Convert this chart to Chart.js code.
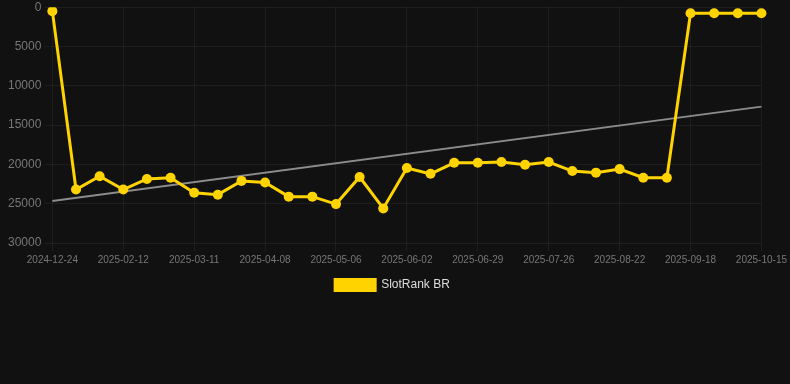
<!DOCTYPE html>
<html>
<head>
<meta charset="utf-8">
<script src="https://cdn.jsdelivr.net/npm/chart.js@4"></script>
<style>
  html, body { margin: 0; padding: 0; background: #111111; overflow: hidden; }
  #wrap { width: 790px; height: 304px; position: relative; top: -3px; }
</style>
</head>
<body>
<div id="wrap"><canvas id="grafico"></canvas></div>
<script>
const datas = ['2024-12-24', '2025-01-25', '2025-02-03', '2025-02-12', '2025-02-21', '2025-03-02',
  '2025-03-11', '2025-03-20', '2025-03-29', '2025-04-08', '2025-04-17', '2025-04-26',
  '2025-05-06', '2025-05-15', '2025-05-24', '2025-06-02', '2025-06-11', '2025-06-20',
  '2025-06-29', '2025-07-08', '2025-07-17', '2025-07-26', '2025-08-04', '2025-08-13',
  '2025-08-22', '2025-08-31', '2025-09-09', '2025-09-18', '2025-09-27', '2025-10-06', '2025-10-15'];
const ranking = [500, 23200, 21500, 23200, 21850, 21700,
  23600, 23850, 22100, 22300, 24100, 24100,
  25050, 21600, 25600, 20450, 21200, 19800,
  19800, 19700, 20050, 19700, 20850, 21050,
  20600, 21700, 21700, 760, 760, 760, 760];
const tendencia_inicio = 24650;
const tendencia_fim = 12650;

const ctx = document.getElementById('grafico').getContext('2d');
const myChart = new Chart(ctx, {
    type: 'line',
    data: {
        labels: datas,
        datasets: [{
            label: 'SlotRank BR',
            data: ranking,
            backgroundColor: '#FFD300',
            borderColor: '#FFD300',
            borderWidth: 3,
            pointRadius: 5,
            pointHoverRadius: 6,
            pointBackgroundColor: '#FFD300',
            pointBorderWidth: 0,
            fill: false
        }, {
            label: 'tendencia',
            data: [{x: datas[0], y: tendencia_inicio}, {x: datas[datas.length - 1], y: tendencia_fim}],
            borderColor: 'rgba(140,140,140,1)',
            borderWidth: 2,
            pointRadius: 0,
            fill: false
        }]
    },
    options: {
        responsive: true,
        maintainAspectRatio: false,
        animation: false,
        layout: { padding: { top: 0, right: 10, left: 5, bottom: 0 } },
        plugins: {
            legend: {
                position: 'bottom',
                labels: {
                    color: '#dddddd',
                    boxWidth: 40,
                    boxHeight: 11,
                    font: { family: 'Liberation Sans, Arial', size: 12 },
                    filter: function(item) { return item.text === 'SlotRank BR'; } // so a serie principal
                }
            },
            tooltip: { enabled: false }
        },
        scales: {
            x: {
                grid: { color: 'rgba(255,255,255,0.05)' },
                border: { display: false },
                ticks: {
                    color: '#777777',
                    font: { family: 'Liberation Sans, Arial', size: 10 },
                    maxRotation: 0,
                    autoSkip: true,
                    maxTicksLimit: 11
                }
            },
            y: {
                reverse: true,
                min: 0,
                max: 30000,
                grid: { color: 'rgba(255,255,255,0.05)' },
                border: { display: false },
                ticks: {
                    stepSize: 5000,
                    color: '#777777',
                    font: { family: 'Liberation Sans, Arial', size: 12 },
                    callback: function(v) { return v; }
                }
            }
        }
    }
});
</script>
</body>
</html>
